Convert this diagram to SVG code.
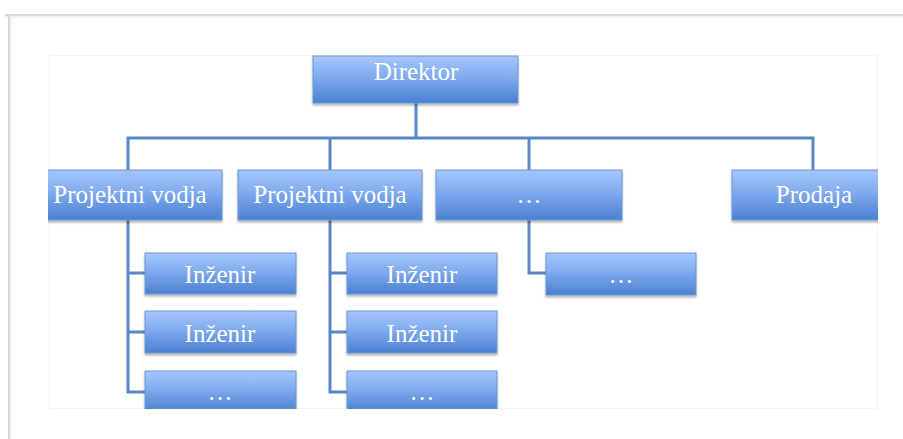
<svg xmlns="http://www.w3.org/2000/svg" width="903" height="439" viewBox="0 0 903 439">
<defs>
<linearGradient id="g" x1="0" y1="0" x2="0" y2="1">
<stop offset="0" stop-color="#a6c6fc"/>
<stop offset="0.45" stop-color="#80abee"/>
<stop offset="1" stop-color="#4a80d0"/>
</linearGradient>
<filter id="sh" x="-10%" y="-20%" width="120%" height="150%">
<feDropShadow dx="0" dy="2" stdDeviation="1.2" flood-color="#000" flood-opacity="0.3"/>
</filter>
<clipPath id="clip"><rect x="48" y="40" width="830" height="369"/></clipPath>
</defs>
<style>
.box{fill:url(#g);stroke:#6d97d6;stroke-width:1;filter:url(#sh)}
.t{font-family:"Liberation Serif","Times New Roman",serif;font-size:25px;fill:#ffffff;text-anchor:middle}
.c{fill:none;stroke:#5a86c3;stroke-width:3}
</style>
<rect x="0" y="0" width="903" height="439" fill="#ffffff"/>
<line x1="5" y1="15" x2="903" y2="15" stroke="#d9d9d9" stroke-width="2"/>
<line x1="5" y1="17" x2="903" y2="17" stroke="#f0f0f0" stroke-width="1.5"/>
<line x1="9" y1="15" x2="9" y2="439" stroke="#d9d9d9" stroke-width="2"/>
<line x1="11" y1="16" x2="11" y2="439" stroke="#f0f0f0" stroke-width="1.5"/>
<rect x="49.5" y="55.5" width="828" height="353" fill="none" stroke="#f5f5f5" stroke-width="1"/>
<g clip-path="url(#clip)">
<g id="connectors">
<path class="c" d="M416,103 V138 M128,170 V138 H813 V170 M330,138 V170 M529,138 V170"/>
<path class="c" d="M128,220 V392 H145 M128,273 H145 M128,332 H145"/>
<path class="c" d="M330,220 V392 H347 M330,273 H347 M330,332 H347"/>
<path class="c" d="M529,220 V273 H546"/>
</g>
<g id="direktor"><rect class="box" x="313" y="56" width="205" height="47"/><text class="t" x="416" y="80">Direktor</text></g>
<g id="pv1"><rect class="box" x="38" y="170" width="184" height="50"/><text class="t" x="130" y="203">Projektni vodja</text></g>
<g id="pv2"><rect class="box" x="238" y="170" width="184" height="50"/><text class="t" x="330" y="203">Projektni vodja</text></g>
<g id="dots1"><rect class="box" x="436" y="170" width="186" height="50"/><text class="t" x="529" y="203">…</text></g>
<g id="prodaja"><rect class="box" x="732" y="170" width="164" height="50"/><text class="t" x="814" y="203">Prodaja</text></g>
<g id="ing1a"><rect class="box" x="145" y="253" width="151" height="41"/><text class="t" x="220" y="283">Inženir</text></g>
<g id="ing1b"><rect class="box" x="145" y="311" width="151" height="42"/><text class="t" x="220" y="342">Inženir</text></g>
<g id="dots1c"><rect class="box" x="145" y="371" width="151" height="41"/><text class="t" x="220" y="400">…</text></g>
<g id="ing2a"><rect class="box" x="347" y="253" width="150" height="41"/><text class="t" x="422" y="283">Inženir</text></g>
<g id="ing2b"><rect class="box" x="347" y="311" width="150" height="42"/><text class="t" x="422" y="342">Inženir</text></g>
<g id="dots2c"><rect class="box" x="347" y="371" width="150" height="41"/><text class="t" x="422" y="400">…</text></g>
<g id="dots3"><rect class="box" x="546" y="253" width="150" height="42"/><text class="t" x="621" y="283">…</text></g>
</g>
</svg>
